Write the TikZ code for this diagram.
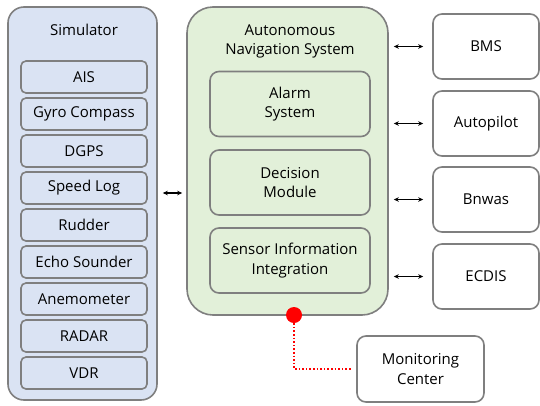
\documentclass[tikz,border=0pt]{standalone}
\usepackage{fontspec}
\setmainfont{Open Sans}
\usetikzlibrary{arrows.meta}
\definecolor{simfill}{HTML}{DAE3F3}
\definecolor{ansfill}{HTML}{E2F0D9}
\definecolor{bordergray}{HTML}{7F7F7F}
\tikzset{
  base/.style={draw=bordergray, line width=1.6pt, align=center, inner sep=0pt,
    font=\fontsize{15}{19.5}\selectfont},
  outer/.style={base, rounded corners=16pt},
  simitem/.style={base, fill=simfill, rounded corners=5pt, minimum width=126pt, minimum height=32pt},
  ansitem/.style={base, fill=ansfill, rounded corners=9pt, minimum width=160pt, minimum height=65pt},
  extbox/.style={base, fill=white, rounded corners=9pt, minimum width=106pt, minimum height=65pt},
  link/.style={{Stealth[length=5pt,width=4.5pt]}-{Stealth[length=5pt,width=4.5pt]}, line width=1.1pt, black},
  title/.style={align=center, font=\fontsize{15}{19}\selectfont, inner sep=0pt}
}
\begin{document}
\begin{tikzpicture}[x=1pt,y=-1pt]
\useasboundingbox (0,0) rectangle (540,405);
% Simulator
\node[outer, fill=simfill, rounded corners=16pt, minimum width=149pt, minimum height=393pt] (sim) at (82.5,203.5) {};
\node[title] (simt) at (84,30) {Simulator};
\node[simitem] (ais) at (84,77) {AIS};
\node[simitem] (gyro) at (84,114) {Gyro Compass};
\node[simitem] (dgps) at (84,151) {DGPS};
\node[simitem] (speed) at (84,188) {Speed Log};
\node[simitem] (rudder) at (84,225) {Rudder};
\node[simitem] (echo) at (84,262) {Echo Sounder};
\node[simitem] (anemo) at (84,299) {Anemometer};
\node[simitem] (radar) at (84,336) {RADAR};
\node[simitem] (vdr) at (84,373) {VDR};
% ANS
\node[outer, fill=ansfill, rounded corners=26pt, minimum width=201pt, minimum height=308pt] (ans) at (287.5,161) {};
\node[title] (anst) at (290,41) {Autonomous\\Navigation System};
\node[ansitem] (alarm) at (290,104) {Alarm\\System};
\node[ansitem] (decision) at (290,182.5) {Decision\\Module};
\node[ansitem] (sensor) at (290,260.5) {Sensor Information\\Integration};
% External
\node[extbox] (bms) at (486,46.5) {BMS};
\node[extbox] (autopilot) at (486,123.5) {Autopilot};
\node[extbox] (bnwas) at (486,199.5) {Bnwas};
\node[extbox] (ecdis) at (486,276.5) {ECDIS};
\node[extbox, minimum width=127pt, minimum height=66pt] (mon) at (420.5,369) {Monitoring\\Center};
% Red dot
\node[circle, fill=red, minimum size=16pt, inner sep=0pt] (dot) at (294,315) {};
% Links
\draw[link, shorten <=5pt, shorten >=4pt] (sim.east |- 0,193) -- (ans.west |- 0,193);
\draw[link, shorten <=5pt, shorten >=9pt] (ans.east |- bms) -- (bms.west);
\draw[link, shorten <=5pt, shorten >=9pt] (ans.east |- autopilot) -- (autopilot.west);
\draw[link, shorten <=5pt, shorten >=9pt] (ans.east |- bnwas) -- (bnwas.west);
\draw[link, shorten <=5pt, shorten >=9pt] (ans.east |- ecdis) -- (ecdis.west);
\draw[red, dotted, line width=1.6pt, shorten >=4pt] (dot.south) |- (mon.west);
\end{tikzpicture}
\end{document}
